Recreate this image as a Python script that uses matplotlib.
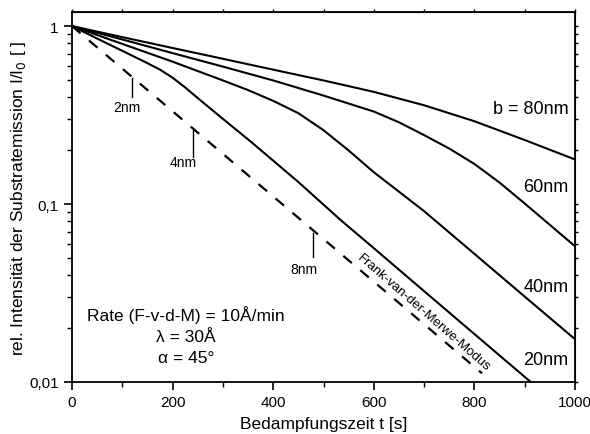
import numpy as np
import matplotlib
matplotlib.use('Agg')
import matplotlib.pyplot as plt
from matplotlib.ticker import FixedLocator, FixedFormatter, NullFormatter, LogLocator

plt.rcParams['font.family'] = ['Liberation Sans', 'DejaVu Sans']

# Frank-van-der-Merwe mode (layer growth), straight on log scale
t_fvdm = [0, 815]
i_fvdm = [1.0, 0.0112]

# island growth curves, b = island distance
t_20 = [0, 50, 100, 150, 175, 200, 225, 250, 300, 354, 450, 533, 600, 700, 800, 912]
i_20 = [1.0, 0.851, 0.726, 0.619, 0.569, 0.513, 0.452, 0.394, 0.301, 0.226, 0.133, 0.0818,
        0.0565, 0.0324, 0.0186, 0.0100]

t_40 = [0, 100, 200, 300, 350, 400, 450, 500, 550, 600, 700, 800, 900, 1000]
i_40 = [1.0, 0.794, 0.631, 0.495, 0.437, 0.380, 0.324, 0.260, 0.200, 0.151, 0.0912, 0.0525,
        0.0302, 0.0174]

t_60 = [0, 100, 200, 300, 400, 500, 600, 650, 700, 750, 800, 850, 900, 950, 1000]
i_60 = [1.0, 0.841, 0.705, 0.592, 0.495, 0.407, 0.331, 0.288, 0.244, 0.205, 0.168, 0.132,
        0.1007, 0.0764, 0.0579]

t_80 = [0, 100, 200, 300, 400, 500, 600, 700, 800, 900, 1000]
i_80 = [1.0, 0.867, 0.753, 0.655, 0.569, 0.495, 0.427, 0.359, 0.292, 0.229, 0.178]

# thickness markers on the FvdM line: (time, top, bottom)
mark_t = [120, 240, 480]
mark_top = [0.509, 0.262, 0.0690]
mark_bot = [0.398, 0.185, 0.0506]
mark_txt = ['2nm', '4nm', '8nm']
mark_txt_pos = [(109, 0.351), (221, 0.172), (461, 0.0431)]

# curve labels
lab_txt = ['b = 80nm', '60nm', '40nm', '20nm']
lab_y = [0.346, 0.125, 0.0346, 0.0133]

fig = plt.figure(figsize=(5.9, 4.35), dpi=100)
ax = fig.add_axes([72/590, 1-383/435, (575-72)/590, (383-13)/435])

ax.plot(t_fvdm, i_fvdm, color='k', lw=1.6, dashes=(5, 5))
for tt, ii in [(t_20, i_20), (t_40, i_40), (t_60, i_60), (t_80, i_80)]:
    ax.plot(tt, ii, color='k', lw=1.5)

for k in range(3):
    ax.plot([mark_t[k], mark_t[k]], [mark_top[k], mark_bot[k]], color='k', lw=1.0)
    ax.text(mark_txt_pos[k][0], mark_txt_pos[k][1], mark_txt[k], fontsize=10,
            ha='center', va='center')

for txt, yy in zip(lab_txt, lab_y):
    ax.text(987, yy, txt, fontsize=13, ha='right', va='center')

ax.text(700, 0.0248, 'Frank-van-der-Merwe-Modus', fontsize=9.5, rotation=-41,
        ha='center', va='center', rotation_mode='anchor')

ax.text(227, 0.0183, 'Rate (F-v-d-M) = 10Å/min\nλ = 30Å\nα = 45°', fontsize=12.5,
        ha='center', va='center', multialignment='center', linespacing=1.5)

ax.set_yscale('log')
ax.set_xlim(0, 1000)
ax.set_ylim(0.01, 1.2)

ax.set_xticks([0, 200, 400, 600, 800, 1000])
ax.set_xticks([100, 300, 500, 700, 900], minor=True)
ax.yaxis.set_major_locator(FixedLocator([0.01, 0.1, 1]))
ax.yaxis.set_major_formatter(FixedFormatter(['0,01', '0,1', '1']))
ax.yaxis.set_minor_locator(LogLocator(base=10, subs=np.arange(2, 10)))
ax.yaxis.set_minor_formatter(NullFormatter())

ax.tick_params(which='major', direction='out', length=6, width=1.2, labelsize=11)
ax.tick_params(which='minor', direction='out', length=3.5, width=1.0)
for sp in ax.spines.values():
    sp.set_linewidth(1.3)

# short ticks on top and right
top = ax.secondary_xaxis('top')
top.set_xticks([0, 100, 200, 300, 400, 500, 600, 700, 800, 900, 1000])
top.tick_params(direction='out', length=2.5, width=1.0, labeltop=False)
right = ax.secondary_yaxis('right')
right.yaxis.set_major_locator(FixedLocator([0.01, 0.1, 1]))
right.yaxis.set_minor_locator(LogLocator(base=10, subs=np.arange(2, 10)))
right.yaxis.set_minor_formatter(NullFormatter())
right.tick_params(which='both', direction='out', length=2.5, width=1.0, labelright=False)

ax.set_xlabel('Bedampfungszeit t [s]', fontsize=12.5, labelpad=5)
ax.set_ylabel('rel. Intensität der Substratemission I/I$_0$ [ ]', fontsize=12.5, labelpad=1)

fig.savefig('out.png', dpi=100)
